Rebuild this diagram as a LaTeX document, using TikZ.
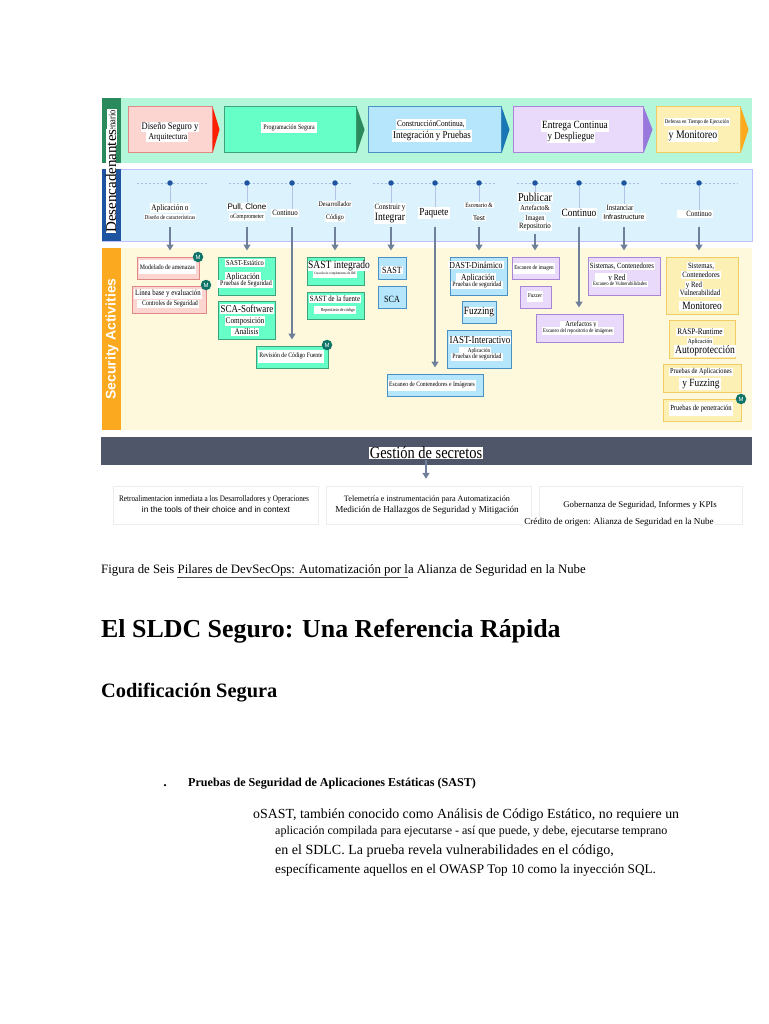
\documentclass[tikz,border=0pt]{standalone}
\usepackage{fontspec}
\setmainfont{Liberation Serif}
\setsansfont{Liberation Sans}
\newfontfamily\tightserif[FakeStretch=0.85]{Liberation Serif}
\usepackage{xcolor}
\usetikzlibrary{arrows.meta, calc}

\definecolor{bandgreen}{HTML}{B4F6DA}
\definecolor{bandblue}{HTML}{DCF2FC}
\definecolor{bandyellow}{HTML}{FEF9DC}
\definecolor{sidegreen}{HTML}{2A8A5C}
\definecolor{sideblue}{HTML}{1F55A0}
\definecolor{sideorange}{HTML}{FBA91E}
\definecolor{barslate}{HTML}{50566A}
\definecolor{flowgray}{HTML}{71809A}
\definecolor{badgeteal}{HTML}{0F7468}
\definecolor{pinkfill}{HTML}{FDD5D0}
\definecolor{pinkline}{HTML}{E08A88}
\definecolor{greenfill}{HTML}{66FFC8}
\definecolor{greenline}{HTML}{3FA27A}
\definecolor{bluefill}{HTML}{B5E6FB}
\definecolor{blueline}{HTML}{4A90C4}
\definecolor{purplefill}{HTML}{E9DAFC}
\definecolor{purpleline}{HTML}{A885D8}
\definecolor{yellowfill}{HTML}{FDF0B4}
\definecolor{yellowline}{HTML}{F2CB62}
\newcommand{\pxfont}[1]{\fontsize{#1}{#1}\selectfont}

\begin{document}
\begin{tikzpicture}[
    x=1pt, y=-1pt,
    band/.style={rectangle, anchor=north west, inner sep=0pt},
    pinkbox/.style={rectangle, draw=pinkline, line width=1pt, fill=pinkfill, inner sep=0pt},
    greenbox/.style={rectangle, draw=greenline, line width=1pt, fill=greenfill, inner sep=0pt},
    bluebox/.style={rectangle, draw=blueline, line width=1pt, fill=bluefill, inner sep=0pt},
    purplebox/.style={rectangle, draw=purpleline, line width=1pt, fill=purplefill, inner sep=0pt},
    yellowbox/.style={rectangle, draw=yellowline, line width=1pt, fill=yellowfill, inner sep=0pt},
    footbox/.style={rectangle, draw=black!7, fill=white, inner sep=0pt},
    lab/.style={fill=white, inner sep=1pt, text=black, execute at begin node=\tightserif},
    labsf/.style={fill=white, inner sep=1pt, text=black},
    flow/.style={-{Triangle[length=6pt,width=7pt]}, line width=1.8pt, draw=flowgray, shorten >=6pt},
    tick/.style={draw=cyan!45!blue!30, line width=0.6pt},
    dots/.style={draw=cyan!50!blue!35, line width=0.5pt, dash pattern=on 2pt off 2pt},
    dot/.style={circle, fill=sideblue, inner sep=0pt, minimum size=5.5pt},
    badge/.style={circle, fill=badgeteal, inner sep=0pt, minimum size=10.5pt, text=white, font=\sffamily\pxfont{6}},
    plain/.style={anchor=base west, inner sep=0pt, text=black},
]
\useasboundingbox (0,0) rectangle (768,1024);

% Bands
\node[band, fill=bandgreen, minimum width=650pt, minimum height=65pt] (bplan) at (102,98) {};
\node[band, fill=bandblue, draw=blue!25, minimum width=650pt, minimum height=72pt] (btrig) at (102,169) {};
\node[band, fill=bandyellow, minimum width=650pt, minimum height=182pt] (bsec) at (102,248) {};
\node[band, fill=sidegreen, minimum width=19pt, minimum height=65pt] (sgreen) at (102,98) {};
\node[band, fill=sideblue, minimum width=19pt, minimum height=72pt] (sblue) at (102,169) {};
\node[band, fill=sideorange, minimum width=19pt, minimum height=182pt] (sorange) at (102,248) {};

% Side titles
\node[lab, rotate=90, font=\pxfont{10}, inner sep=1.5pt] (tesc) at (112,127) {Escenario\hspace{3pt}};
\node[labsf, rotate=90, font=\pxfont{15}, inner sep=0pt] (tdes) at (111,181) {Desencadenantes};
\node[rotate=90, text=white, font=\sffamily\bfseries\pxfont{14}] (tact) at (112,339) {Security Activities};

% Phase arrows
\node[pinkbox, minimum width=84pt, minimum height=46pt] (p1) at (170,130) {};
\fill[red!75!orange] (p1.north east) -- ++(7,23) -- (p1.south east) -- cycle;
\node[greenbox, minimum width=132pt, minimum height=46pt] (p2) at (290,130) {};
\fill[sidegreen] (p2.north east) -- ++(8,23) -- (p2.south east) -- cycle;
\node[bluebox, minimum width=133pt, minimum height=46pt] (p3) at (434.5,130) {};
\fill[sideblue!80!cyan] (p3.north east) -- ++(8,23) -- (p3.south east) -- cycle;
\node[purplebox, minimum width=130pt, minimum height=46pt] (p4) at (578,130) {};
\fill[purpleline!90!blue] (p4.north east) -- ++(9,23) -- (p4.south east) -- cycle;
\node[yellowbox, minimum width=84pt, minimum height=46pt] (p5) at (698,130) {};
\fill[sideorange] (p5.north east) -- ++(8,23) -- (p5.south east) -- cycle;

\node[lab, font=\pxfont{10}] (p1a) at (170,127) {Diseño Seguro y\hspace{10pt}};
\node[lab, font=\pxfont{9}] (p1b) at (167,137) {\hspace{2pt}Arquitectura\hspace{2pt}};
\node[lab, font=\pxfont{7}, minimum height=11pt, inner xsep=2pt] (p2a) at (289,128) {Programación Segura};
\node[lab, font=\pxfont{8.6}] (p3a) at (431,124) {ConstrucciónContinua,};
\node[lab, font=\pxfont{10.5}] (p3b) at (432,136) {Integración y Pruebas\hspace{8pt}};
\node[lab, font=\pxfont{11}] (p4a) at (575,126) {Entrega Continua\hspace{3pt}};
\node[lab, font=\pxfont{10.5}] (p4b) at (571,137) {y Despliegue\hspace{12pt}};
\node[lab, font=\pxfont{5.7}] (p5a) at (697,122) {Defensa en Tiempo de Ejecución};
\node[lab, font=\pxfont{11.5}] (p5b) at (693,136) {y Monitoreo\hspace{3pt}};

% Dashed rails
\draw[dots] (137,183) -- (208,183);
\draw[dots] (229,183) -- (353,183);
\draw[dots] (373,183) -- (497,183);
\draw[dots] (517,183) -- (641,183);
\draw[dots] (661,183) -- (738,183);

% Trigger dots
\node[dot] (d1) at (170,183) {};
\node[dot] (d2) at (247,183) {};
\node[dot] (d3) at (292,183) {};
\node[dot] (d4) at (335,183) {};
\node[dot] (d5) at (391,183) {};
\node[dot] (d6) at (435,183) {};
\node[dot] (d7) at (479,183) {};
\node[dot] (d8) at (535,183) {};
\node[dot] (d9) at (579,183) {};
\node[dot] (d10) at (624,183) {};
\node[dot] (d11) at (699,183) {};

% Trigger labels
\node[lab, font=\pxfont{8.5}] (t1a) at (170,208) {Aplicación o\hspace{8pt}};
\node[lab, font=\pxfont{6}] (t1b) at (170,217) {Diseño de características};
\node[labsf, font=\sffamily\pxfont{8}] (t2a) at (247,207) {Pull, Clone};
\node[lab, font=\pxfont{6.5}] (t2b) at (247,217) {oComprometer};
\node[lab, font=\pxfont{8}] (t3a) at (285,213) {Continuo};
\node[lab, font=\pxfont{7}] (t4a) at (335,204) {Desarrollador};
\node[lab, font=\pxfont{7}] (t4b) at (335,218) {Código};
\node[lab, font=\pxfont{8}] (t5a) at (390,208) {Construir y};
\node[lab, font=\pxfont{11.2}] (t5b) at (390,218) {Integrar};
\node[lab, font=\pxfont{10.8}] (t6a) at (434,213) {Paquete};
\node[lab, font=\pxfont{6.5}] (t7a) at (479,205) {Escenario \&};
\node[labsf, font=\sffamily\pxfont{6.5}] (t7b) at (479,218) {Test};
\node[lab, font=\pxfont{12}] (t8a) at (535,197) {Publicar};
\node[lab, font=\pxfont{7.5}] (t8b) at (535,208) {Artefacto\&};
\node[lab, font=\pxfont{7.5}] (t8c) at (535,219) {Imagen};
\node[lab, font=\pxfont{8}] (t8d) at (535,227) {Repositorio};
\node[lab, font=\pxfont{11}] (t9a) at (579,213) {Continuo};
\node[lab, font=\pxfont{8}] (t10a) at (620,208) {Instanciar\hspace{2pt}};
\node[labsf, font=\sffamily\pxfont{7}] (t10b) at (624,217) {Infrastructure};
\node[lab, font=\pxfont{8}] (t11a) at (695,214) {\hspace{8pt}Continuo\hspace{8pt}};

% Trigger ticks
\draw[tick] (d1) -- (d1 |- t1a.north);
\draw[tick] (d2) -- (d2 |- t2a.north);
\draw[tick] (d3) -- (d3 |- t3a.north);
\draw[tick] (d4) -- (d4 |- t4a.north);
\draw[tick] (d5) -- (d5 |- t5a.north);
\draw[tick] (d6) -- (d6 |- t6a.north);
\draw[tick] (d7) -- (d7 |- t7a.north);
\draw[tick] (d8) -- (d8 |- t8a.north);
\draw[tick] (d9) -- (d9 |- t9a.north);
\draw[tick] (d10) -- (d10 |- t10a.north);
\draw[tick] (d11) -- (d11 |- t11a.north);

% Design boxes
\node[pinkbox, minimum width=62pt, minimum height=22pt] (s1) at (168,268) {};
\node[lab, font=\pxfont{6.9}, minimum height=14pt] at (167.5,267) (s1a) {Modelado de amenazas};
\node[pinkbox, minimum width=74pt, minimum height=27pt] (s2) at (169,299.5) {};
\node[lab, font=\pxfont{8}] (s2a) at (168,294) {Línea base y evaluación};
\node[lab, font=\pxfont{7}] (s2b) at (168,304) {\hspace{4pt}Controles de Seguridad\hspace{4pt}};
\node[badge] (m1) at (198,257) {M};
\node[badge] (m2) at (206,285) {M};

% Coding boxes
\node[greenbox, minimum width=57pt, minimum height=38pt] (s3) at (246.5,276) {};
\node[lab, font=\pxfont{7.5}] (s3a) at (245,263) {SAST-Estático};
\node[lab, font=\pxfont{9}] (s3b) at (243,277.5) {Aplicación};
\node[lab, font=\pxfont{7}] (s3c) at (245,284) {\hspace{2pt}Pruebas de Seguridad\hspace{2pt}};
\node[greenbox, minimum width=57pt, minimum height=38pt] (s4) at (246.5,320) {};
\node[lab, font=\pxfont{10.5}] (s4a) at (247,309) {SCA-Software};
\node[lab, font=\pxfont{8.5}] (s4b) at (245,321) {Composición};
\node[lab, font=\pxfont{8.5}] (s4c) at (245,332) {\hspace{3pt}Análisis\hspace{3pt}};
\node[greenbox, minimum width=72pt, minimum height=22pt] (s5) at (292,357) {};
\node[lab, font=\pxfont{6.8}, minimum height=13pt] (s5a) at (291,356) {Revisión de Código Fuente};
\node[badge] (m3) at (327,345) {M};
\node[greenbox, minimum width=57pt, minimum height=28pt] (s6) at (335.5,271) {};
\node[lab, font=\pxfont{11.2}, inner sep=0pt] (s6a) at (339,266) {SAST integrado};
\node[lab, font=\pxfont{3.5}, minimum height=7pt] (s6b) at (335,274) {Creación de complementos de IDE};
\node[greenbox, minimum width=57pt, minimum height=27pt] (s7) at (335.5,305.5) {};
\node[lab, font=\pxfont{8}] (s7a) at (335,299) {SAST de la fuente};
\node[lab, font=\pxfont{4.5}, minimum height=8pt] (s7b) at (335,310) {\hspace{6pt}Repositorio de código\hspace{6pt}};

% Build boxes
\node[bluebox, minimum width=28pt, minimum height=22pt] (s8) at (392,268) {};
\node[lab, font=\pxfont{9.5}, inner sep=1pt] (s8a) at (392,270) {SAST};
\node[bluebox, minimum width=28pt, minimum height=22pt] (s9) at (392,297) {};
\node[font=\pxfont{9.5}, execute at begin node=\tightserif] (s9a) at (392,299) {SCA};
\node[bluebox, minimum width=96pt, minimum height=22pt] (s10) at (435,385) {};
\node[lab, font=\pxfont{6.7}, minimum height=11pt] (s10a) at (432,385) {Escaneo de Contenedores e Imágenes};

% Test boxes
\node[bluebox, minimum width=57pt, minimum height=38pt] (s11) at (478.5,276) {};
\node[lab, font=\pxfont{9.2}] (s11a) at (476,265) {DAST-Dinámico};
\node[lab, font=\pxfont{9}] (s11b) at (476,278) {\hspace{4pt}Aplicación\hspace{4pt}};
\node[lab, font=\pxfont{6.8}] (s11c) at (477,285) {Pruebas de seguridad};
\node[bluebox, minimum width=34pt, minimum height=22pt] (s12) at (479,312) {};
\node[lab, font=\pxfont{11}, inner sep=0pt] (s12a) at (479,312) {Fuzzing};
\node[bluebox, minimum width=64pt, minimum height=38pt] (s13) at (479,349) {};
\node[lab, font=\pxfont{10.5}, inner sep=0.5pt] (s13a) at (480,340) {IAST-Interactivo};
\node[lab, font=\pxfont{6}] (s13b) at (475,351) {\hspace{8pt}Aplicación\hspace{8pt}};
\node[lab, font=\pxfont{6.8}] (s13c) at (477,357) {Pruebas de seguridad};

% Release boxes
\node[purplebox, minimum width=47pt, minimum height=22pt] (s14) at (535.5,268) {};
\node[lab, font=\pxfont{6}, minimum height=11pt] (s14a) at (534,268) {Escaneo de imagen};
\node[purplebox, minimum width=31pt, minimum height=22pt] (s15) at (535.5,297) {};
\node[lab, font=\pxfont{6}, minimum height=11pt] (s15a) at (535,296) {Fuzzer};
\node[purplebox, minimum width=87pt, minimum height=28pt] (s16) at (579.5,328) {};
\node[lab, font=\pxfont{7.5}] (s16a) at (579,325) {\hspace{4pt}Artefactos y\hspace{4pt}};
\node[lab, font=\pxfont{5.6}, minimum height=8pt] (s16b) at (578,331) {Escaneo del repositorio de imágenes};
\node[purplebox, minimum width=72pt, minimum height=38pt] (s17) at (624,276) {};
\node[lab, font=\pxfont{7.9}] (s17a) at (622,266) {Sistemas, Contenedores};
\node[lab, font=\pxfont{8.5}] (s17b) at (611,278) {\hspace{12pt}y Red\hspace{12pt}};
\node[lab, font=\pxfont{5.5}] (s17c) at (620,284) {Escaneo de Vulnerabilidades};

% Runtime boxes
\node[yellowbox, minimum width=72pt, minimum height=57pt] (s18) at (702,285.5) {};
\node[lab, font=\pxfont{8}] (s18a) at (701,266) {Sistemas,};
\node[lab, font=\pxfont{8}] (s18b) at (701,275) {Contenedores};
\node[lab, font=\pxfont{8}] (s18c) at (694,286) {y Red};
\node[lab, font=\pxfont{8}] (s18d) at (700,293) {Vulnerabilidad};
\node[lab, font=\pxfont{11}] (s18e) at (701,306) {\hspace{2pt}Monitoreo\hspace{2pt}};
\node[yellowbox, minimum width=66pt, minimum height=38pt] (s19) at (702,339) {};
\node[lab, font=\pxfont{8.5}] (s19a) at (700,332) {RASP-Runtime};
\node[lab, font=\pxfont{6.5}] (s19b) at (700,342) {Aplicación};
\node[lab, font=\pxfont{11.3}] (s19c) at (705,351) {Autoprotección};
\node[yellowbox, minimum width=78pt, minimum height=28pt] (s20) at (702,378) {};
\node[lab, font=\pxfont{7.4}] (s20a) at (701,372) {Pruebas de Aplicaciones};
\node[lab, font=\pxfont{11}] (s20b) at (700,384) {\hspace{2pt}y Fuzzing\hspace{2pt}};
\node[yellowbox, minimum width=78pt, minimum height=22pt] (s21) at (702,410) {};
\node[lab, font=\pxfont{7.8}, minimum height=14pt] (s21a) at (701,409) {Pruebas de penetración};
\node[badge] (m4) at (741,399) {M};

% Flow arrows
\coordinate (f1) at (170,227);
\coordinate (f2) at (247,227);
\coordinate (f3) at (292,227);
\coordinate (f4) at (335,227);
\coordinate (f5) at (391,227);
\coordinate (f6) at (435,227);
\coordinate (f7) at (479,227);
\coordinate (f8) at (535,234);
\coordinate (f9) at (579,227);
\coordinate (f10) at (624,227);
\coordinate (f11) at (699,227);
\draw[flow] (f1) -- (f1 |- s1.north);
\draw[flow] (f2) -- (f2 |- s3.north);
\draw[flow] (f3) -- (f3 |- s5.north);
\draw[flow] (f4) -- (f4 |- s6.north);
\draw[flow] (f5) -- (f5 |- s8.north);
\draw[flow] (f6) -- (f6 |- s10.north);
\draw[flow] (f7) -- (f7 |- s11.north);
\draw[flow] (f8) -- (f8 |- s14.north);
\draw[flow] (f9) -- (f9 |- s16.north);
\draw[flow] (f10) -- (f10 |- s17.north);
\draw[flow] (f11) -- (f11 |- s18.north);

% Secrets bar
\node[band, fill=barslate, minimum width=651pt, minimum height=28pt] (bar) at (101,437) {};
\node[labsf, font=\pxfont{15}, inner sep=0.5pt, execute at begin node=\tightserif] (bara) at (426,453) {\pxfont{17}Gestión de secretos};

% Footer boxes
\node[footbox, minimum width=205pt, minimum height=38pt] (g1) at (215.5,505) {};
\node[footbox, minimum width=205pt, minimum height=38pt] (g2) at (428.5,505) {};
\node[footbox, minimum width=203pt, minimum height=38pt] (g3) at (640.5,505) {};
\draw[flow, shorten >=7pt] (bara.south) -- (bara.south |- g2.north);
\node[inner sep=0pt, font=\tightserif\pxfont{8.5}] (g1a) at (214,499) {Retroalimentacion inmediata a los Desarrolladores y Operaciones};
\node[inner sep=0pt, font=\sffamily\pxfont{8.3}] (g1b) at (216,510) {in the tools of their choice and in context};
\node[inner sep=0pt, font=\pxfont{8.2}] (g2a) at (427,500) {Telemetría e instrumentación para Automatización};
\node[inner sep=0pt, font=\pxfont{9.1}] (g2b) at (427,510) {Medición de Hallazgos de Seguridad y Mitigación};
\node[inner sep=0pt, font=\pxfont{8.8}] (g3a) at (640,505) {Gobernanza de Seguridad, Informes y KPIs};
\node[labsf, font=\pxfont{9.1}] (g4) at (619,522) {Crédito de origen: Alianza de Seguridad en la Nube};

% Text below the figure
\node[plain, font=\pxfont{12.8}] (cap) at (101,573) {Figura de Seis Pilares de DevSecOps: Automatización por la Alianza de Seguridad en la Nube};
\coordinate (ul1) at (177,577);
\coordinate (ul2) at (408,577);
\draw[draw=black!70, line width=0.6pt] (ul1) -- (ul2);
\node[plain, font=\bfseries\pxfont{25.9}] (h1) at (101,637) {El SLDC Seguro: Una Referencia Rápida};
\node[plain, font=\bfseries\pxfont{20.4}] (h2) at (101,697) {Codificación Segura};
\node[circle, fill=black, inner sep=0pt, minimum size=2.5pt] (bul) at (165,785) {};
\node[plain, font=\bfseries\pxfont{12.1}] (li) at (188,786) {Pruebas de Seguridad de Aplicaciones Estáticas (SAST)};
\node[plain, font=\pxfont{13.9}] (l1) at (253,818) {oSAST, también conocido como Análisis de Código Estático, no requiere un};
\node[plain, font=\pxfont{12}] (l2) at (275,834) {aplicación compilada para ejecutarse - así que puede, y debe, ejecutarse temprano};
\node[plain, font=\pxfont{14}] (l3) at (275,854) {en el SDLC. La prueba revela vulnerabilidades en el código,};
\node[plain, font=\pxfont{13.2}] (l4) at (275,873) {específicamente aquellos en el OWASP Top 10 como la inyección SQL.};
\end{tikzpicture}
\end{document}
